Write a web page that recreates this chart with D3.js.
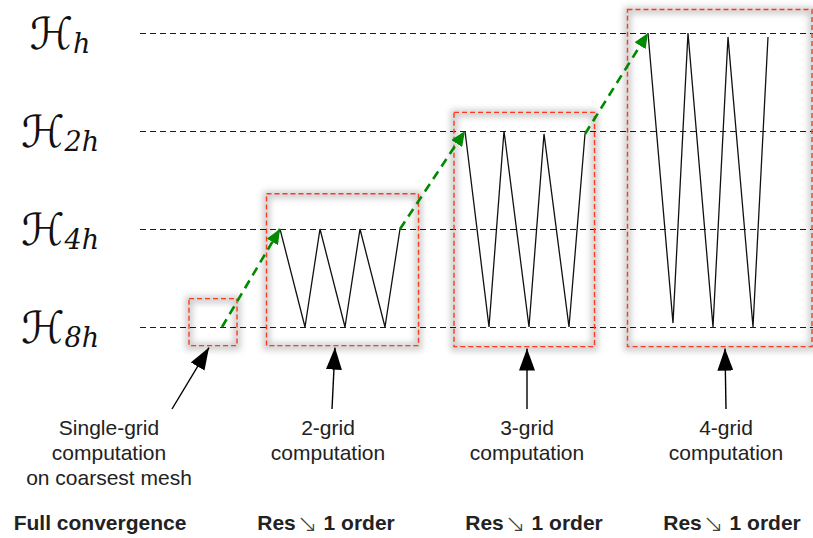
<!DOCTYPE html>
<html>
<head>
<meta charset="utf-8">
<script src="https://cdn.jsdelivr.net/npm/d3@7"></script>
<style>
  body { margin: 0; background: #fff; }
  text { font-family: "Liberation Sans", Arial, sans-serif; fill: #222; }
</style>
</head>
<body>
<svg></svg>
<script>
// grid levels, finest first (index 0 = h, index 3 = 8h)
const levels = ['h', '2h', '4h', '8h'];

const stageLabels = [
  ['Single-grid', 'computation', 'on coarsest mesh'],
  ['2-grid', 'computation'],
  ['3-grid', 'computation'],
  ['4-grid', 'computation']
];
const bottomLabels = ['Full convergence', 'Res', 'Res', 'Res'];

// iterations (x) and level (y) of the sawtooth in each stage
const stageIters = [
  [16.4],
  [28, 33, 36, 41, 44, 49, 52],
  [65, 69.8, 72.8, 77.8, 80.8, 85.8, 89],
  [101.6, 106.6, 109.6, 114.6, 117.6, 122.6, 125.6]
];
const stageLevels = [
  [3],
  [2, 3, 2, 3, 2, 3, 2],
  [1, 3, 1, 3, 1.03, 3, 1.03],
  [0, 2.96, 0, 3, 0.04, 3, 0.04]
];

// dashed frame around each stage
const boxIters = [[9.8, 19.4], [25.3, 55.7], [62.8, 90.9], [97.5, 134.4]];
const boxLevels = [[2.71, 3.19], [1.64, 3.19], [0.81, 3.2], [-0.24, 3.2]];

// label / pointer arrows
const labelIter = [-6.2, 37.6, 77.4, 117.2];
const bottomIter = [-8, 37.2, 78.8, 118.4];
const arrowTail = [6.4, 38.4, 77.4, 117.2];
const arrowTip = [13.8, 39, 77.4, 117];

const width = 813;
const height = 538;

const svg = d3.select('svg')
  .attr('width', width)
  .attr('height', height);

const x = d3.scaleLinear().domain([0, 135]).range([140, 815]);
const y = d3.scaleLinear().domain([0, 3]).range([33, 327]);

const defs = svg.append('defs');
defs.append('filter')
  .attr('id', 'soft')
  .attr('x', '-20%').attr('y', '-20%')
  .attr('width', '140%').attr('height', '140%')
  .append('feGaussianBlur')
  .attr('stdDeviation', 3);

defs.append('marker')
  .attr('id', 'head-black')
  .attr('markerUnits', 'userSpaceOnUse')
  .attr('markerWidth', 22).attr('markerHeight', 16)
  .attr('refX', 22).attr('refY', 8)
  .attr('orient', 'auto')
  .append('path')
  .attr('d', 'M0,0L22,8L0,16Z')
  .attr('fill', '#000');

defs.append('marker')
  .attr('id', 'head-green')
  .attr('markerUnits', 'userSpaceOnUse')
  .attr('markerWidth', 15).attr('markerHeight', 13)
  .attr('refX', 15).attr('refY', 6.5)
  .attr('orient', 'auto')
  .append('path')
  .attr('d', 'M0,0L15,6.5L0,13Z')
  .attr('fill', '#008a00');

// level lines
svg.append('g')
  .selectAll('line')
  .data(levels)
  .join('line')
  .attr('x1', x(0))
  .attr('x2', width)
  .attr('y1', (d, i) => y(i) + 0.5)
  .attr('y2', (d, i) => y(i) + 0.5)
  .attr('stroke', '#1a1a1a')
  .attr('stroke-width', 1.1)
  .attr('stroke-dasharray', '6,4');

// level labels  H_h, H_2h ...
const lab = svg.append('g')
  .selectAll('text')
  .data(levels)
  .join('text')
  .attr('x', 60)
  .attr('y', (d, i) => y(i) + 16)
  .attr('text-anchor', 'middle')
  .style('font-family', '"DejaVu Sans", sans-serif')
  .style('font-size', '44px')
  .style('fill', '#111');
lab.append('tspan').text('ℋ');
lab.append('tspan')
  .attr('dy', 4)
  .style('font-family', '"DejaVu Serif", serif')
  .style('font-size', '27px')
  .style('font-style', 'italic')
  .text(d => d);

// box shadows and frames
const boxes = svg.append('g')
  .selectAll('g')
  .data(boxIters)
  .join('g');

boxes.append('rect')
  .attr('x', d => x(d[0]))
  .attr('y', (d, i) => y(boxLevels[i][0]) + 1)
  .attr('width', d => x(d[1]) - x(d[0]))
  .attr('height', (d, i) => y(boxLevels[i][1]) - y(boxLevels[i][0]))
  .attr('fill', 'none')
  .attr('stroke', '#000')
  .attr('stroke-opacity', 0.2)
  .attr('stroke-width', 7)
  .attr('filter', 'url(#soft)');

boxes.append('rect')
  .attr('x', d => x(d[0]))
  .attr('y', (d, i) => y(boxLevels[i][0]))
  .attr('width', d => x(d[1]) - x(d[0]))
  .attr('height', (d, i) => y(boxLevels[i][1]) - y(boxLevels[i][0]))
  .attr('fill', 'none')
  .attr('stroke', '#ff3b1f')
  .attr('stroke-width', 1.4)
  .attr('stroke-dasharray', '5,3');

// sawtooth in each stage
const line = d3.line()
  .x(d => x(d[0]))
  .y(d => y(d[1]));

svg.append('g')
  .selectAll('path')
  .data(stageIters.map((its, i) => its.map((t, j) => [t, stageLevels[i][j]])))
  .join('path')
  .attr('d', line)
  .attr('fill', 'none')
  .attr('stroke', '#111')
  .attr('stroke-width', 1.3);

// green prolongation arrows between stages
const jumps = d3.range(1, stageIters.length).map(i => [
  [stageIters[i - 1][stageIters[i - 1].length - 1], stageLevels[i - 1][stageLevels[i - 1].length - 1]],
  [stageIters[i][0], stageLevels[i][0]]
]);

svg.append('g')
  .selectAll('path')
  .data(jumps)
  .join('path')
  .attr('d', line)
  .attr('fill', 'none')
  .attr('stroke', '#008a00')
  .attr('stroke-width', 2.6)
  .attr('stroke-dasharray', '9,6')
  .attr('marker-end', 'url(#head-green)');

// pointer arrows from labels to frames
svg.append('g')
  .selectAll('line')
  .data(arrowTail)
  .join('line')
  .attr('x1', d => x(d))
  .attr('y1', 409)
  .attr('x2', (d, i) => x(arrowTip[i]))
  .attr('y2', (d, i) => y(boxLevels[i][1]) + 2)
  .attr('stroke', '#000')
  .attr('stroke-width', 1.4)
  .attr('marker-end', 'url(#head-black)');

// stage captions
const cap = svg.append('g')
  .selectAll('text')
  .data(stageLabels)
  .join('text')
  .attr('x', (d, i) => x(labelIter[i]))
  .attr('y', 435)
  .attr('text-anchor', 'middle')
  .style('font-size', '21px');
cap.selectAll('tspan')
  .data(d => d)
  .join('tspan')
  .attr('x', function() { return this.parentNode.getAttribute('x'); })
  .attr('dy', (d, j) => j === 0 ? 0 : 25)
  .text(d => d);

// bottom bold line
const bot = svg.append('g')
  .selectAll('text')
  .data(bottomLabels)
  .join('text')
  .attr('x', (d, i) => x(bottomIter[i]))
  .attr('y', 530)
  .attr('text-anchor', 'middle')
  .style('font-size', '21px')
  .style('font-weight', 'bold');
bot.append('tspan').text(d => d);
bot.filter((d, i) => i > 0).append('tspan')
  .style('font-weight', '200')
  .style('font-family', '"DejaVu Sans ExtraLight", "DejaVu Sans", sans-serif')
  .style('font-size', '25px')
  .style('fill', '#444')
  .attr('dx', 1)
  .attr('dy', 2)
  .text('↘');
bot.filter((d, i) => i > 0).append('tspan')
  .attr('dy', -2)
  .text(' 1 order');
</script>
</body>
</html>
